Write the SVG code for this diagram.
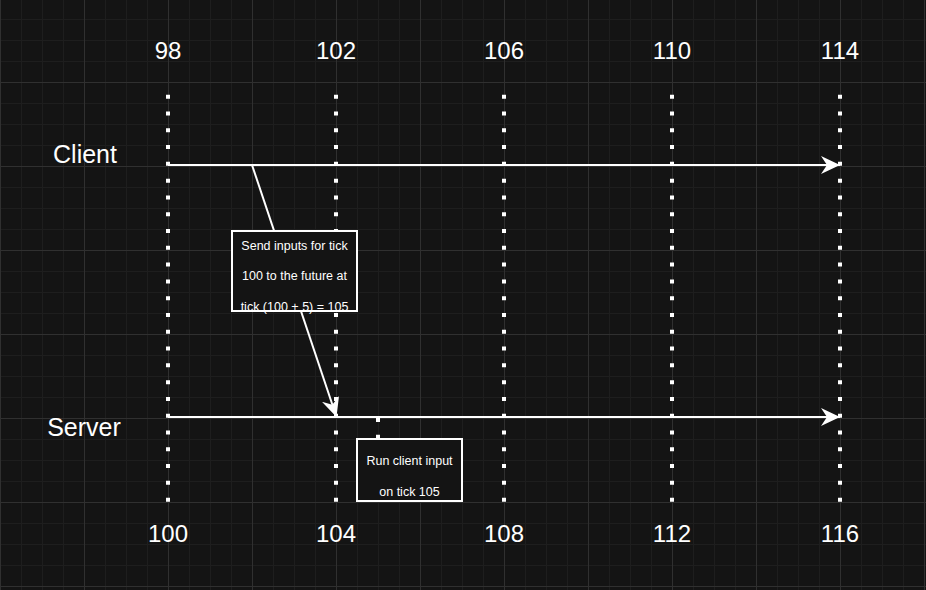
<svg xmlns="http://www.w3.org/2000/svg" width="926" height="590" viewBox="0 0 926 590">
<style>
.lbl{font-family:"Liberation Sans",Arial,sans-serif;fill:#ffffff;text-anchor:middle}
.big{font-size:24px}
.name{font-size:25px}
.small{font-size:12.5px}
.dots{stroke:#ffffff;stroke-width:4;stroke-dasharray:4 12.79;fill:none}
.conn{stroke:#ffffff;stroke-width:2;fill:none}
.box{fill:#141414;stroke:#ffffff;stroke-width:2}
</style>
<defs>
<pattern id="grid" patternUnits="userSpaceOnUse" x="0" y="-2" width="84" height="84">
<rect x="0" y="0" width="84" height="84" fill="#141414"/>
<rect x="21" y="0" width="1" height="84" fill="#1e1e1e"/>
<rect x="42" y="0" width="1" height="84" fill="#1e1e1e"/>
<rect x="63" y="0" width="1" height="84" fill="#1e1e1e"/>
<rect x="0" y="21" width="84" height="1" fill="#1e1e1e"/>
<rect x="0" y="42" width="84" height="1" fill="#1e1e1e"/>
<rect x="0" y="63" width="84" height="1" fill="#1e1e1e"/>
<rect x="0" y="0" width="1" height="84" fill="#303030"/>
<rect x="0" y="0" width="84" height="1" fill="#303030"/>
</pattern>
<marker id="arrow" markerUnits="userSpaceOnUse" markerWidth="20" markerHeight="20" viewBox="0 0 20 20" refX="19" refY="9.5" orient="auto">
<path d="M0,0.5 L19,9.5 L0,18.5 L6,9.5 Z" fill="#ffffff"/>
</marker>
</defs>
<rect x="0" y="0" width="926" height="590" fill="url(#grid)"/>

<g id="ticks-top">
<text class="lbl big" x="168" y="59">98</text>
<text class="lbl big" x="336" y="59">102</text>
<text class="lbl big" x="504" y="59">106</text>
<text class="lbl big" x="672" y="59">110</text>
<text class="lbl big" x="840" y="59">114</text>
</g>
<g id="ticks-bottom">
<text class="lbl big" x="168" y="542">100</text>
<text class="lbl big" x="336" y="542">104</text>
<text class="lbl big" x="504" y="542">108</text>
<text class="lbl big" x="672" y="542">112</text>
<text class="lbl big" x="840" y="542">116</text>
</g>
<g id="tick-lines">
<line class="dots" x1="168" y1="94.7" x2="168" y2="502"/>
<line class="dots" x1="336" y1="94.7" x2="336" y2="502"/>
<line class="dots" x1="504" y1="94.7" x2="504" y2="502"/>
<line class="dots" x1="672" y1="94.7" x2="672" y2="502"/>
<line class="dots" x1="840" y1="94.7" x2="840" y2="502"/>
</g>
<g id="client-label"><text class="lbl name" x="85" y="163">Client</text></g>
<g id="server-label"><text class="lbl name" x="84" y="436">Server</text></g>

<g id="connectors">
<line class="conn" x1="168" y1="165" x2="840" y2="165" marker-end="url(#arrow)"/>
<line class="conn" x1="168" y1="417" x2="840" y2="417" marker-end="url(#arrow)"/>
<line class="conn" x1="252" y1="165" x2="336.5" y2="417" marker-end="url(#arrow)"/>
<line class="dots" x1="378" y1="418" x2="378" y2="440"/>
</g>

<g id="send-note">
<rect class="box" x="232" y="231" width="125" height="80"/>
<text class="lbl small" x="294.5" y="249.5">Send inputs for tick</text>
<text class="lbl small" x="294.5" y="279.5">100 to the future at</text>
<text class="lbl small" x="294.5" y="310.5">tick (100 + 5) = 105</text>
</g>
<g id="run-note">
<rect class="box" x="357" y="439" width="105" height="62"/>
<text class="lbl small" x="409.5" y="464.5">Run client input</text>
<text class="lbl small" x="409.5" y="495.5">on tick 105</text>
</g>
</svg>
